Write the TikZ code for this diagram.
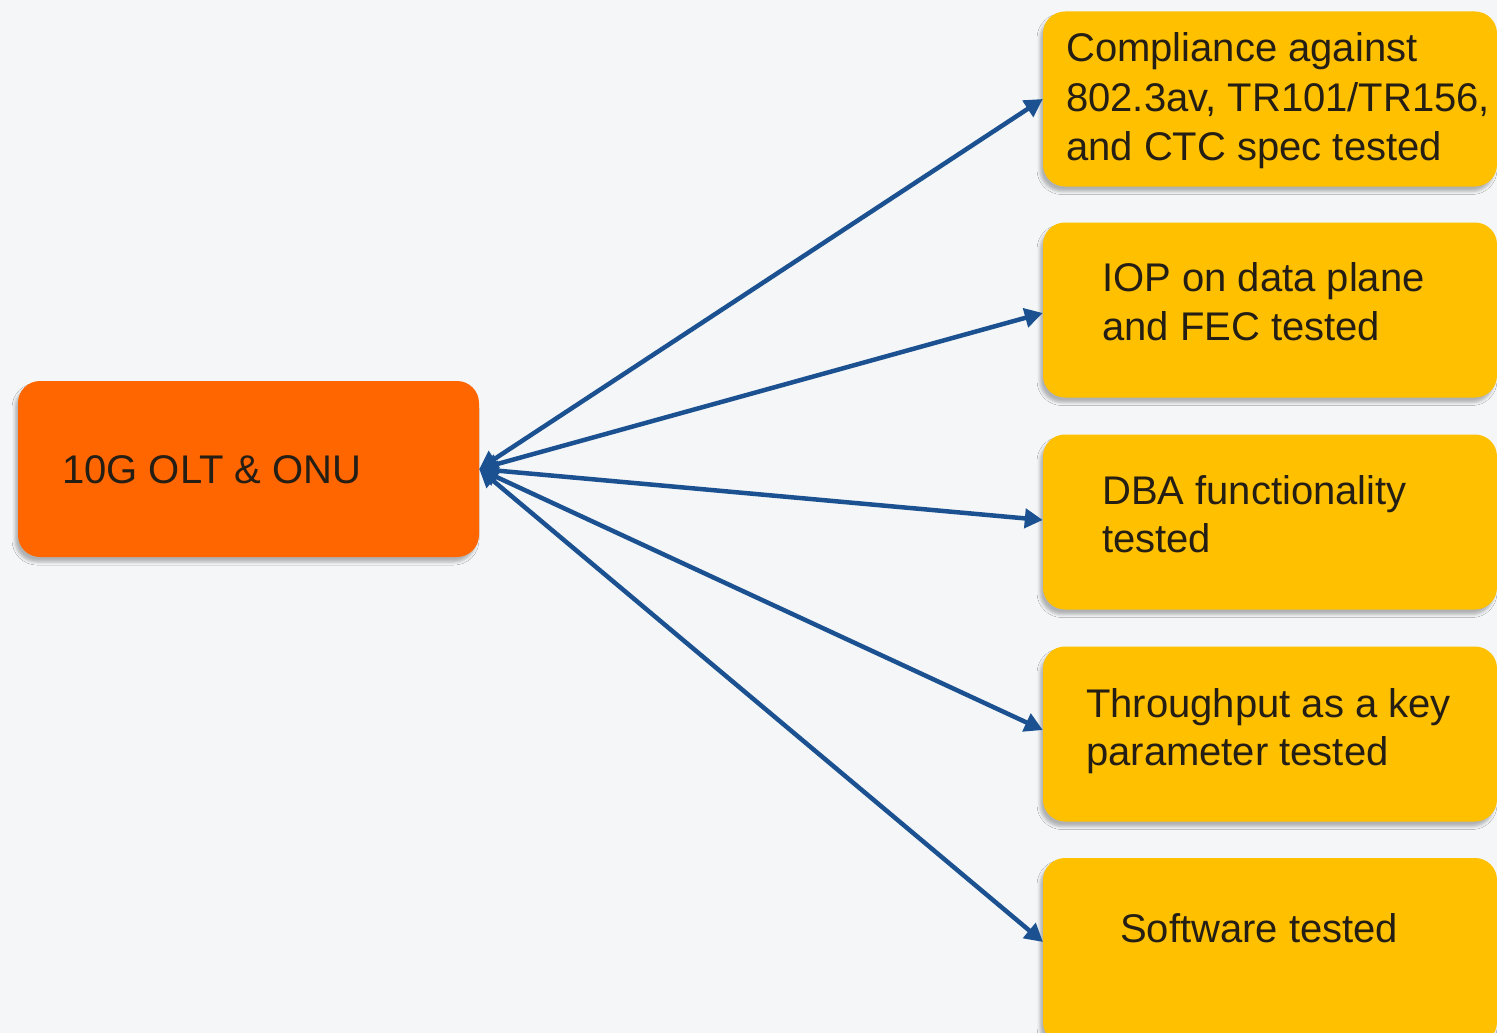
\documentclass[tikz,border=0pt]{standalone}
\usepackage{fontspec}
\setmainfont{Liberation Sans}
\usetikzlibrary{arrows.meta,shadows.blur}

\definecolor{bgcol}{HTML}{F4F6F8}
\definecolor{oltorange}{HTML}{FF6600}
\definecolor{testyellow}{HTML}{FFC000}
\definecolor{linkblue}{HTML}{1B5190}
\definecolor{inktext}{HTML}{241E14}

\tikzset{
  softshadow/.style={blur shadow={shadow xshift=-3pt, shadow yshift=-5pt,
                     shadow blur radius=3pt, shadow opacity=28}},
  oltbox/.style={rectangle, rounded corners=22pt, fill=oltorange, draw=none,
                 softshadow, minimum width=461pt, minimum height=176pt,
                 inner sep=0pt},
  testbox/.style={rectangle, rounded corners=22pt, fill=testyellow, draw=none,
                  softshadow, minimum width=454pt, minimum height=175pt,
                  inner sep=0pt},
  label/.style={anchor=base west, inner sep=0pt, text=inktext,
                font=\fontsize{40}{49}\selectfont},
  link/.style={linkblue, line width=4.5pt,
               {Triangle[length=18pt,width=19pt]}-{Triangle[length=18pt,width=19pt]}},
}

\begin{document}
\begin{tikzpicture}[x=1pt,y=-1pt]
  % canvas
  \fill[bgcol] (0,0) rectangle (1497,1033);
  \useasboundingbox (0,0) rectangle (1497,1033);

  % source box
  \node[oltbox] (olt) at (248.5,469) {};
  \node[label] (oltlbl) at (62,483) {10G OLT \& ONU};

  % test outcome boxes
  \node[testbox] (b1) at (1270,99)  {};
  \node[testbox] (b2) at (1270,310) {};
  \node[testbox] (b3) at (1270,522) {};
  \node[testbox] (b4) at (1270,734) {};
  \node[testbox, minimum height=186pt] (b5) at (1270,951) {};

  \node[label] (t1a) at (1066,62)  {Compliance against};
  \node[label] (t1b) at (1066,111) {802.3av, TR101/TR156,};
  \node[label] (t1c) at (1066,160) {and CTC spec tested};

  \node[label] (t2a) at (1102,291) {IOP on data plane};
  \node[label] (t2b) at (1102,340) {and FEC tested};

  \node[label] (t3a) at (1102,504) {DBA functionality};
  \node[label] (t3b) at (1102,552) {tested};

  \node[label] (t4a) at (1086,717) {Throughput as a key};
  \node[label] (t4b) at (1086,765) {parameter tested};

  \node[label] (t5a) at (1120,942) {Software tested};

  % connectors fanning out from the source box
  \coordinate (e5) at (1043,942);
  \draw[link] (olt.east) -- (b1.west);
  \draw[link] (olt.east) -- ([yshift=-3pt]b2.west);
  \draw[link] (olt.east) -- ([yshift=2pt]b3.west);
  \draw[link] (olt.east) -- ([yshift=4pt]b4.west);
  \draw[link] (olt.east) -- (e5);
\end{tikzpicture}
\end{document}
